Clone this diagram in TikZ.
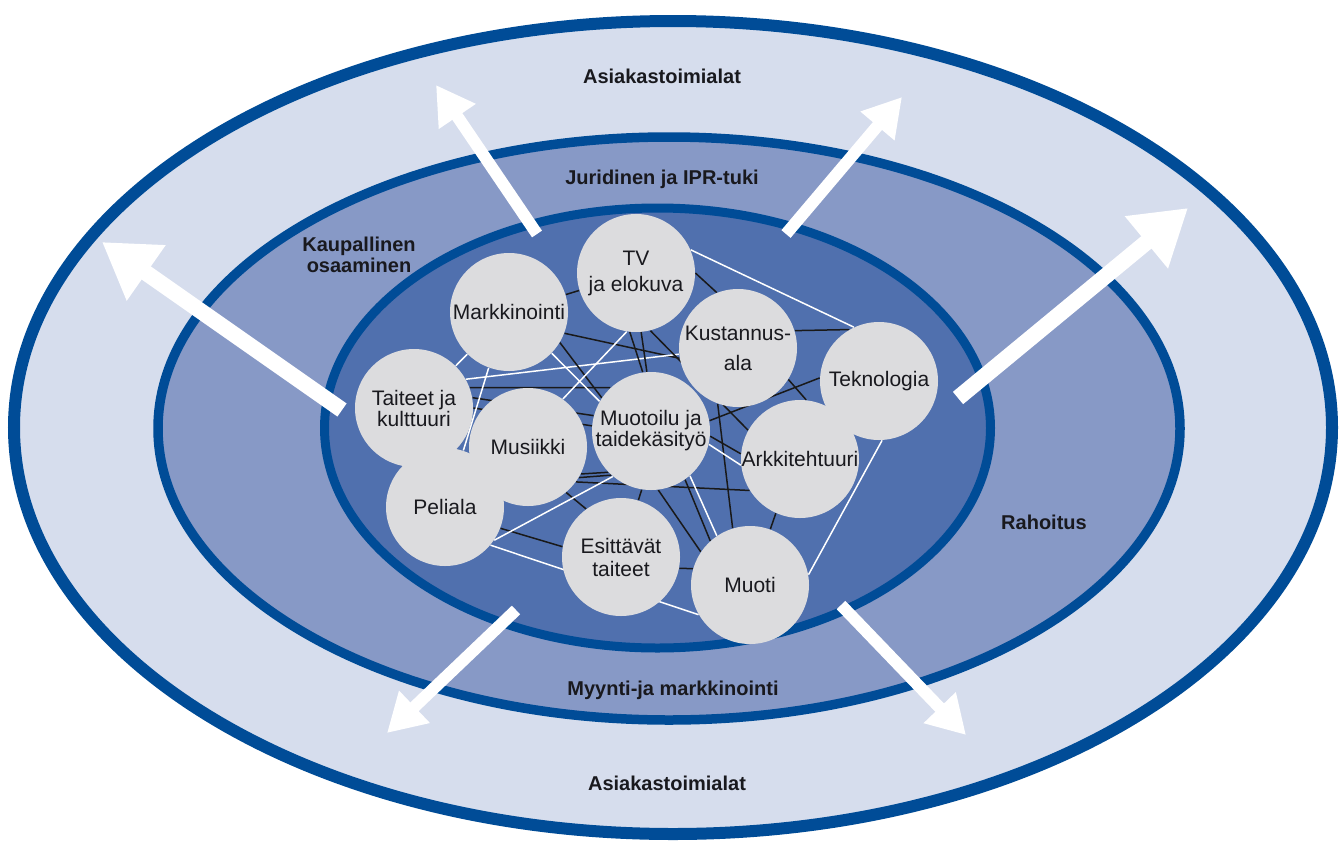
\documentclass[tikz,border=0pt]{standalone}
\usepackage{fontspec}
\setmainfont{Liberation Sans}
\usetikzlibrary{arrows.meta}
\definecolor{ringout}{RGB}{214,221,237}
\definecolor{ringmid}{RGB}{135,153,198}
\definecolor{ringin}{RGB}{80,112,174}
\definecolor{rim}{RGB}{0,76,151}
\definecolor{bubblegrey}{RGB}{220,220,222}
\definecolor{ink}{RGB}{25,25,30}
\pgfdeclarelayer{bg}
\pgfdeclarelayer{links}
\pgfsetlayers{bg,links,main}
\tikzset{
  bubble/.style ={circle, fill=bubblegrey, minimum size=59pt, inner sep=-4pt,
                  align=center, text=ink, font=\fontsize{10.5}{10.5}\selectfont},
  ring/.style   ={draw=rim},
  lbl/.style    ={font=\bfseries\fontsize{10}{10.5}\selectfont, text=ink, align=center},
  bk/.style     ={draw=black!90, line width=0.75pt},
  wt/.style     ={draw=white, line width=0.75pt},
  bigarr/.style ={white, line width=8pt, -{Triangle[length=27pt, width=32pt]}},
  arr/.style    ={white, line width=6pt, -{Triangle[length=19pt, width=21pt]}},
}

\begin{document}
\begin{tikzpicture}[x=0.5pt, y=-0.5pt]
  \useasboundingbox (0,0) rectangle (1344,841);

  % rings
  \begin{pgfonlayer}{bg}
    \fill[white] (0,0) rectangle (1344,841);
    \draw[ring, fill=ringout, line width=6pt]   (673,427.5) ellipse [x radius=329.5pt, y radius=203.25pt];
    \draw[ring, fill=ringmid, line width=4.75pt] (669,428.5) ellipse [x radius=255.5pt, y radius=145.75pt];
    \draw[ring, fill=ringin, line width=4.5pt]  (657.5,428) ellipse [x radius=166.5pt, y radius=110pt];
  \end{pgfonlayer}

  \node[lbl] (asy) at (662,76)   {Asiakastoimialat};
  \node[lbl] (jur) at (662,179)  {Juridinen ja IPR-tuki};
  \node[lbl] (kau) at (359,255)  {Kaupallinen\\osaaminen};
  \node[lbl] (rah) at (1044,522) {Rahoitus};
  \node[lbl] (myy) at (673,690)  {Myynti-ja markkinointi};
  \node[lbl] (asa) at (667,783)  {Asiakastoimialat};

  % sectors
  \node[bubble] (tv)  at (636,273) {TV\\[2.5pt]ja elokuva};
  \node[bubble] (mar) at (509,312) {Markkinointi};
  \node[bubble] (kus) at (738,348) {Kustannus-\\[4.5pt]ala};
  \node[bubble] (tek) at (879,381) {Teknologia};
  \node[bubble] (tai) at (414,408) {Taiteet ja\\kulttuuri};
  \node[bubble] (mus) at (528,447) {Musiikki};
  \node[bubble] (mtl) at (651,431) {Muotoilu ja\\taidekäsityö};
  \node[bubble] (ark) at (800,459) {Arkkitehtuuri};
  \node[bubble] (pel) at (445,507) {Peliala};
  \node[bubble] (esi) at (621,557) {Esittävät\\[1pt]taiteet};
  \node[bubble] (muo) at (750,585) {Muoti};

  % network
  \begin{pgfonlayer}{links}
    \draw[bk] (mar) -- (tv);
    \draw[bk] (tv.0) -- (kus.111);
    \draw[wt] (tv.23) -- (tek.115);
    \draw[bk] (kus.17) -- (tek.120);
    \draw[bk] (mar.-21) -- (kus.190);
    \draw[wt] (tai.29) -- (kus.186);
    \draw[bk] (tai.20) -- (mtl.133);
    \draw[bk] (tai.10) -- (mtl.165);
    \draw[bk] (tai.0) -- (mtl.175);
    \draw[bk] (mar.-31) -- (mtl.146);
    \draw[wt] (mar.-44) -- (mtl.150);
    \draw[wt] (tv.-99) -- (mus.54);
    \draw[bk] (tv.-96) -- (mtl.98);
    \draw[bk] (tv.-85) -- (mtl.94);
    \draw[bk] (tv.-76) -- (ark.151);
    \draw[bk] (kus.-32) -- (ark.84);
    \draw[bk] (tek.177) -- (mtl.10);
    \draw[bk] (kus.-110) -- (muo.107);
    \draw[bk] (mtl.-5) -- (ark.175);
    \draw[wt] (mtl.-13) -- (ark.186);
    \draw[wt] (tek.-87) -- (muo.10);
    \draw[bk] (ark.-114) -- (muo.70);
    \draw[bk] (mus.-36) -- (ark.212);
    \draw[bk] (mus.-27) -- (mtl.224);
    \draw[bk] (mus.-31) -- (mtl.228);
    \draw[bk] (mus.-50) -- (esi.126);
    \draw[bk] (mtl.-99) -- (esi.73);
    \draw[bk] (mtl.-83) -- (muo.146);
    \draw[bk] (mtl.-55) -- (muo.132);
    \draw[wt] (mtl.-49) -- (muo.124);
    \draw[bk] (pel.-21) -- (esi.170);
    \draw[wt] (pel.-40) -- (muo.210);
    \draw[bk] (esi.-11) -- (muo.164);
    \draw[wt] (pel.-34) -- (mtl.230);
    \draw[wt] (tai) -- (mar);
    \draw[wt] (mar.-110) -- (pel.72);
  \end{pgfonlayer}

  % outward arrows
  \coordinate (a1s) at (342,410);  \coordinate (a1e) at (102,242);
  \coordinate (a2s) at (537,234);  \coordinate (a2e) at (436,85);
  \coordinate (a3s) at (786,234);  \coordinate (a3e) at (902,97);
  \coordinate (a4s) at (958,398);  \coordinate (a4e) at (1188,208);
  \coordinate (a5s) at (516,610);  \coordinate (a5e) at (387,733);
  \coordinate (a6s) at (841,605);  \coordinate (a6e) at (966,735);

  \draw[bigarr] (a1s) -- (a1e);
  \draw[arr]    (a2s) -- (a2e);
  \draw[arr]    (a3s) -- (a3e);
  \draw[bigarr] (a4s) -- (a4e);
  \draw[arr]    (a5s) -- (a5e);
  \draw[arr]    (a6s) -- (a6e);
\end{tikzpicture}
\end{document}
